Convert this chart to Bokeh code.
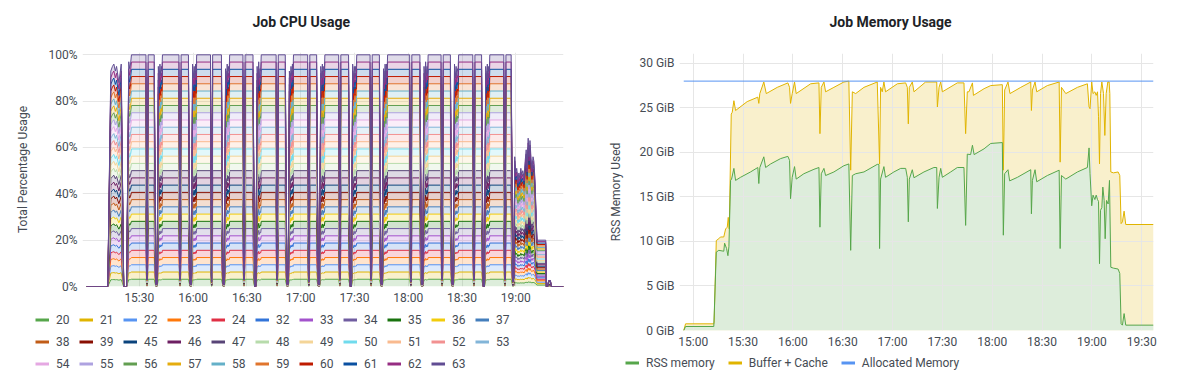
from bokeh.plotting import figure
from bokeh.models import ColumnDataSource, FixedTicker, Legend, LegendItem, Title
from bokeh.layouts import row, column
from bokeh.embed import file_html
from bokeh.resources import INLINE

FONT = "Roboto"
TICK_COLOR = "#464c54"
TITLE_COLOR = "#202226"
GRID_COLOR = "#e6e6e6"

# ---------------- CPU chart data ----------------
cpu_title = "Job CPU Usage"
cpu_cores = ["20", "21", "22", "23", "24", "32", "33", "34", "35", "36", "37",
             "38", "39", "45", "46", "47", "48", "49", "50", "51", "52", "53",
             "54", "55", "56", "57", "58", "59", "60", "61", "62", "63"]
cpu_colors = ["#56A64B", "#E0B400", "#5794F2", "#FF780A", "#E02F44", "#3274D9", "#A352CC",
              "#705DA0", "#19730E", "#F2CC0C", "#447EBC", "#C15C17", "#890F02", "#0A437C",
              "#6D1F62", "#584477", "#B7DBAB", "#F4D598", "#70DBED", "#F9BA8F", "#F29191",
              "#82B5D8", "#E5A8E2", "#AEA2E0", "#629E51", "#E5AC0E", "#64B0C8", "#E0752D",
              "#BF1B00", "#0A50A1", "#962D82", "#614D93"]

# minutes after 15:00 and total stacked usage (%) of all cores
cpu_points = [
    (0.5, 0), (12.4, 0), (14.1, 93), (15.0, 95), (15.8, 96), (16.6, 93), (17.3, 95), (18.6, 88),
    (19.9, 96), (21.3, 0), (22.9, 0), (24.1, 97), (24.6, 94), (25.1, 96), (25.6, 100),
    (33.7, 100), (34.3, 3), (34.9, 100), (38.3, 100), (39.2, 1), (39.9, 1), (40.6, 95), (41.0, 89),
    (41.5, 96), (41.9, 91), (42.3, 95), (42.6, 93), (42.9, 100),
    (52.1, 100), (52.7, 3), (53.3, 100), (57.4, 100), (58.3, 1), (59.0, 1), (59.7, 96), (60.1, 90),
    (60.6, 95), (61.0, 90), (61.4, 96), (61.7, 92), (62.0, 100),
    (69.7, 100), (70.3, 2), (70.9, 100), (75.8, 100), (76.7, 1), (77.4, 1), (78.1, 94), (78.5, 88),
    (79.0, 96), (79.4, 91), (79.8, 95), (80.1, 93), (80.4, 100),
    (87.8, 100), (88.4, 3), (89.0, 100), (93.4, 100), (94.3, 0), (95.0, 0), (95.7, 95), (96.1, 89),
    (96.6, 97), (97.0, 90), (97.4, 94), (97.7, 93), (98.0, 100),
    (106.3, 100), (106.9, 3), (107.5, 100), (111.4, 100), (112.3, 1), (113.0, 1), (113.7, 93),
    (114.1, 88), (114.6, 95), (115.0, 91), (115.4, 96), (115.7, 92), (116.0, 100),
    (123.9, 100), (124.5, 2), (125.1, 100), (128.9, 100), (129.8, 1), (130.5, 1), (131.2, 95),
    (131.6, 90), (132.1, 96), (132.5, 90), (132.9, 95), (133.2, 93), (133.5, 100),
    (141.2, 100), (141.8, 3), (142.4, 100), (146.7, 100), (147.6, 0), (148.3, 0), (149.0, 96),
    (149.4, 89), (149.9, 95), (150.3, 91), (150.7, 95), (151.0, 94), (151.3, 100),
    (158.7, 100), (159.3, 3), (159.9, 100), (163.9, 100), (164.8, 1), (165.5, 1), (166.2, 94),
    (166.6, 88), (167.1, 96), (167.5, 90), (167.9, 96), (168.2, 93), (168.5, 100),
    (180.8, 100), (181.4, 2), (182.0, 100), (186.5, 100), (187.4, 1), (188.1, 1), (188.8, 95),
    (189.2, 89), (189.7, 97), (190.1, 91), (190.5, 95), (190.8, 92), (191.1, 100),
    (198.3, 100), (198.9, 3), (199.5, 100), (203.5, 100), (204.4, 1), (205.1, 1), (205.8, 96),
    (206.2, 90), (206.7, 95), (207.1, 91), (207.5, 94), (207.8, 93), (208.1, 100),
    (216.0, 100), (216.6, 3), (217.2, 100), (220.9, 100), (221.8, 0), (222.5, 0), (223.2, 95),
    (223.6, 89), (224.1, 96), (224.5, 90), (224.9, 95), (225.2, 93), (225.5, 100),
    (233.3, 100), (233.9, 3), (234.5, 100), (237.4, 100), (238.3, 2), (238.9, 4), (239.4, 56),
    (240.0, 49), (240.5, 51), (241.2, 46), (241.7, 49), (242.2, 47), (242.8, 51), (243.3, 48),
    (243.9, 50), (244.6, 47), (245.2, 54), (245.8, 59), (246.3, 51), (246.9, 64), (247.4, 56),
    (247.9, 63), (248.5, 55), (249.0, 51), (249.6, 56), (250.1, 54), (250.7, 46), (251.2, 34),
    (251.8, 20), (256.7, 20), (257.0, 0), (257.8, 0), (258.3, 2.6), (259.3, 2.6), (259.8, 0),
    (266.6, 0),
]
cpu_xticks = [30, 60, 90, 120, 150, 180, 210, 240]
cpu_xtick_labels = ["15:30", "16:00", "16:30", "17:00", "17:30", "18:00", "18:30", "19:00"]
cpu_yticks = [0, 20, 40, 60, 80, 100]
cpu_ytick_labels = ["0%", "20%", "40%", "60%", "80%", "100%"]

# ---------------- Memory chart data ----------------
mem_title = "Job Memory Usage"
mem_rss_points = [
    (-5.7, 0), (-4.6, 0.45), (12.4, 0.45), (13.9, 8.8), (15.4, 9.0), (18.4, 8.9), (18.9, 9.8),
    (20.1, 9.2), (20.9, 8.4), (21.5, 9.4), (22.5, 16.85), (23.1, 17.0), (24.5, 18.2), (25.5, 16.85),
    (28.5, 17.2), (34.5, 17.8), (38.9, 18.3), (39.5, 16.5), (40.1, 18.3), (42.5, 19.5), (43.6, 18.3),
    (46.6, 18.7), (52.6, 19.3), (57.0, 19.55), (58.0, 19.1), (58.6, 14.8), (59.6, 17.2), (61.0, 18.4),
    (62.0, 17.0), (66.6, 17.6), (72.7, 18.1), (75.7, 18.3), (76.3, 11.6), (77.1, 17.6), (78.7, 18.2),
    (79.7, 17.4), (84.7, 17.8), (90.7, 18.5), (93.7, 18.7), (94.8, 9.0), (95.8, 17.4), (97.8, 17.6),
    (102.8, 17.8), (110.8, 18.65), (111.8, 18.65), (112.2, 9.2), (112.8, 17.0), (114.8, 18.4),
    (115.8, 17.2), (120.8, 17.8), (124.9, 18.2), (127.9, 18.2), (128.9, 17.2), (129.5, 12.2),
    (130.1, 17.0), (131.9, 18.05), (132.9, 17.15), (138.9, 17.8), (144.9, 18.3), (146.6, 18.3),
    (147.0, 13.7), (148.0, 17.2), (149.0, 18.2), (150.0, 17.2), (155.0, 17.8), (159.0, 18.3),
    (163.0, 18.3), (164.0, 11.8), (165.0, 19.8), (167.0, 19.75), (168.1, 20.8), (169.1, 19.75),
    (175.1, 20.4), (179.1, 21.0), (186.1, 21.1), (186.7, 10.7), (187.5, 17.6), (189.5, 18.05),
    (190.5, 16.8), (195.2, 17.2), (203.2, 18.05), (203.6, 13.1), (204.2, 16.85), (205.8, 18.05),
    (206.8, 16.7), (213.2, 17.4), (220.3, 18.0), (220.9, 9.2), (221.7, 17.4), (224.3, 17.0),
    (231.3, 17.8), (237.3, 18.3), (238.3, 20.5), (238.9, 17.6), (239.9, 14.0), (240.7, 15.2),
    (241.8, 14.7), (242.6, 15.2), (243.4, 14.7), (244.0, 14.5), (244.6, 7.5), (245.2, 13.5),
    (246.0, 13.8), (246.6, 16.1), (247.4, 14.6), (248.0, 10.3), (248.8, 14.6), (249.8, 14.2),
    (250.6, 16.85), (251.4, 7.1), (253.0, 7.0), (255.8, 6.9), (256.8, 6.4), (257.6, 0.75),
    (258.4, 0.6), (259.4, 1.9), (260.4, 0.6), (277.1, 0.6),
]
# RSS + Buffer/Cache (stacked top of the yellow series)
mem_cache_top_points = [
    (-5.7, 0), (-4.6, 0.75), (12.4, 0.75), (12.6, 0.94), (13.9, 10.1), (15.4, 10.3), (16.4, 10.5),
    (18.4, 10.5), (19.5, 11.4), (20.5, 11.6), (21.1, 12.7), (21.7, 11.4), (22.9, 24.3), (23.5, 24.5),
    (24.5, 25.8), (25.5, 24.7), (32.5, 25.7), (38.9, 26.2), (39.5, 25.5), (40.1, 26.6), (42.5, 27.9),
    (44.0, 26.6), (50.6, 27.3), (57.0, 27.8), (58.0, 27.3), (58.6, 25.5), (59.6, 26.6), (61.0, 27.9),
    (62.0, 26.6), (70.7, 27.7), (75.7, 27.8), (76.3, 22.1), (77.1, 27.3), (78.7, 27.9), (79.7, 26.8),
    (84.7, 27.3), (90.7, 27.9), (93.7, 28.0), (94.8, 18.0), (95.8, 26.8), (97.8, 26.6), (102.8, 27.3),
    (110.8, 27.9), (112.2, 18.7), (112.8, 27.3), (113.8, 26.8), (114.8, 27.9), (115.8, 26.8),
    (122.9, 27.7), (127.9, 27.8), (128.9, 27.3), (129.5, 23.2), (130.1, 27.3), (131.9, 27.9),
    (132.9, 26.8), (139.9, 27.9), (146.6, 27.9), (147.0, 25.1), (148.0, 27.3), (149.0, 27.9),
    (150.0, 26.8), (159.0, 27.8), (163.0, 27.8), (164.0, 22.1), (165.0, 26.8), (166.0, 26.8),
    (168.1, 27.8), (168.7, 26.4), (175.1, 27.15), (179.1, 27.5), (186.1, 27.6), (186.7, 18.0),
    (187.5, 27.0), (189.5, 27.9), (190.7, 26.6), (197.2, 27.3), (203.2, 27.9), (203.6, 24.7),
    (204.2, 27.0), (205.8, 27.9), (206.8, 26.8), (213.2, 27.5), (220.3, 27.9), (220.9, 18.9),
    (221.7, 27.3), (224.3, 26.6), (231.3, 27.3), (237.3, 27.7), (238.3, 25.1), (238.9, 24.9),
    (239.9, 27.9), (240.7, 26.6), (241.8, 26.8), (242.6, 26.4), (243.4, 26.8), (244.0, 24.0),
    (244.6, 18.7), (245.2, 26.6), (246.0, 27.9), (247.0, 26.6), (247.8, 21.9), (248.6, 26.6),
    (249.6, 27.9), (250.4, 27.9), (250.8, 26.6), (251.4, 17.8), (253.0, 17.7), (255.8, 17.8),
    (256.8, 17.4), (257.6, 12.0), (258.4, 12.2), (259.4, 13.4), (260.4, 11.9), (277.1, 11.9),
]
mem_alloc_points = [(-5.7, 28.0), (277.1, 28.0)]
mem_series_names = ["RSS memory", "Buffer + Cache", "Allocated Memory"]
mem_series_colors = ["#56A64B", "#E0B400", "#5794F2"]
mem_fill_colors = ["#DDEDDB", "#F9F0CC"]
mem_xticks = [0, 30, 60, 90, 120, 150, 180, 210, 240, 270]
mem_xtick_labels = ["15:00", "15:30", "16:00", "16:30", "17:00", "17:30", "18:00", "18:30", "19:00", "19:30"]
mem_yticks = [0, 5, 10, 15, 20, 25, 30]
mem_ytick_labels = ["0 GiB", "5 GiB", "10 GiB", "15 GiB", "20 GiB", "25 GiB", "30 GiB"]


def no_align(p):
    try:
        p.frame_align = False
    except Exception:
        pass


def add_title(p, text, offset, spacer_standoff):
    # an empty spacer next to the frame, then the real title above it
    spacer = Title(text=" ", text_font_size="1px", standoff=spacer_standoff)
    real = Title(text=text, align="left", offset=offset, standoff=10,
                 text_font=FONT, text_font_size="14px", text_font_style="bold",
                 text_color=TITLE_COLOR)
    p.add_layout(spacer, "above")
    p.add_layout(real, "above")


def style_axes(p, xticks, xlabels, yticks, ylabels, ylabel, ystandoff):
    p.xaxis.ticker = FixedTicker(ticks=xticks)
    p.xaxis.major_label_overrides = {k: v for k, v in zip(xticks, xlabels)}
    p.yaxis.ticker = FixedTicker(ticks=yticks)
    p.yaxis.major_label_overrides = {k: v for k, v in zip(yticks, ylabels)}
    for ax in (p.xaxis[0], p.yaxis[0]):
        ax.axis_line_color = None
        ax.major_tick_line_color = None
        ax.minor_tick_line_color = None
        ax.major_tick_out = 0
        ax.major_tick_in = 0
        ax.major_label_text_font = FONT
        ax.major_label_text_font_size = "12px"
        ax.major_label_text_color = TICK_COLOR
    p.xaxis.major_label_standoff = 4
    p.yaxis.major_label_standoff = 5
    p.yaxis.axis_label = ylabel
    p.yaxis.axis_label_text_font = FONT
    p.yaxis.axis_label_text_font_size = "12px"
    p.yaxis.axis_label_text_font_style = "normal"
    p.yaxis.axis_label_text_color = TICK_COLOR
    p.yaxis.axis_label_standoff = ystandoff
    p.xgrid.grid_line_color = GRID_COLOR
    p.ygrid.grid_line_color = GRID_COLOR
    p.outline_line_color = None
    no_align(p)


def legend_figure(width, height, names, colors, loc, ncols=None, label_width=10, spacing=10):
    lf = figure(width=width, height=height, x_range=(0, 1), y_range=(0, 1),
                output_backend="svg", toolbar_location=None,
                x_axis_location=None, y_axis_location=None,
                min_border=0, min_border_left=0, min_border_right=0,
                min_border_top=0, min_border_bottom=0)
    lf.xgrid.visible = False
    lf.ygrid.visible = False
    lf.outline_line_color = None
    no_align(lf)
    items = []
    for name, col in zip(names, colors):
        # swatch renderer: its only points lie outside the (0, 1) ranges
        r = lf.line(x=[5, 6], y=[5, 6], line_color=col, line_width=3)
        items.append(LegendItem(label=name, renderers=[r]))
    kw = dict(items=items, location=loc, orientation="horizontal",
              glyph_width=14, glyph_height=19, label_height=19, label_width=label_width,
              label_standoff=7, spacing=spacing, padding=0, margin=0,
              border_line_color=None, background_fill_alpha=0,
              label_text_font=FONT, label_text_font_size="12px",
              label_text_color=TICK_COLOR)
    if ncols is not None:
        kw["ncols"] = ncols
    lf.add_layout(Legend(**kw))
    return lf


# ---------------- CPU figure ----------------
n_cores = len(cpu_cores)
cpu_t = [t for t, _ in cpu_points]
cpu_v = [v for _, v in cpu_points]
cpu_data = {"t": cpu_t}
for c in cpu_cores:
    cpu_data[c] = [v / n_cores for v in cpu_v]
cpu_src = ColumnDataSource(cpu_data)

p1 = figure(width=582, height=308, x_range=(-1.7, 266.6), y_range=(0, 101),
            output_backend="svg", toolbar_location=None,
            min_border_left=82, min_border_right=19, min_border_top=52, min_border_bottom=22)
p1.varea_stack(stackers=cpu_cores, x="t", source=cpu_src, fill_color=cpu_colors, fill_alpha=0.2)
p1.vline_stack(stackers=cpu_cores, x="t", source=cpu_src, line_color=cpu_colors, line_width=1)
style_axes(p1, cpu_xticks, cpu_xtick_labels, cpu_yticks, cpu_ytick_labels,
           "Total Percentage Usage", 15)
add_title(p1, cpu_title, 170, 15)

lf1 = legend_figure(582, 75, cpu_cores, cpu_colors, (35, 10), ncols=11, label_width=20, spacing=3)

# ---------------- Memory figure ----------------
rss_t = [t for t, _ in mem_rss_points]
rss_v = [v for _, v in mem_rss_points]
top_t = [t for t, _ in mem_cache_top_points]
top_v = [v for _, v in mem_cache_top_points]
al_t = [t for t, _ in mem_alloc_points]
al_v = [v for _, v in mem_alloc_points]

p2 = figure(width=590, height=352, x_range=(-8.25, 277.1), y_range=(0, 31.1),
            output_backend="svg", toolbar_location=None,
            min_border_left=97, min_border_right=19, min_border_top=53, min_border_bottom=22)
p2.varea(x=top_t, y1=[0] * len(top_t), y2=top_v, fill_color=mem_fill_colors[1], level="underlay")
p2.varea(x=rss_t, y1=[0] * len(rss_t), y2=rss_v, fill_color=mem_fill_colors[0], level="underlay")
p2.line(top_t, top_v, line_color=mem_series_colors[1], line_width=1)
p2.line(rss_t, rss_v, line_color=mem_series_colors[0], line_width=1)
p2.line(al_t, al_v, line_color=mem_series_colors[2], line_width=1)
style_axes(p2, mem_xticks, mem_xtick_labels, mem_yticks, mem_ytick_labels,
           "RSS Memory Used", 13)
add_title(p2, mem_title, 150, 16)

lf2 = legend_figure(590, 31, mem_series_names, mem_series_colors, (43, 11), spacing=13)

layout = row(column(p1, lf1), column(p2, lf2))
open("out.html", "w").write(file_html(layout, INLINE))
